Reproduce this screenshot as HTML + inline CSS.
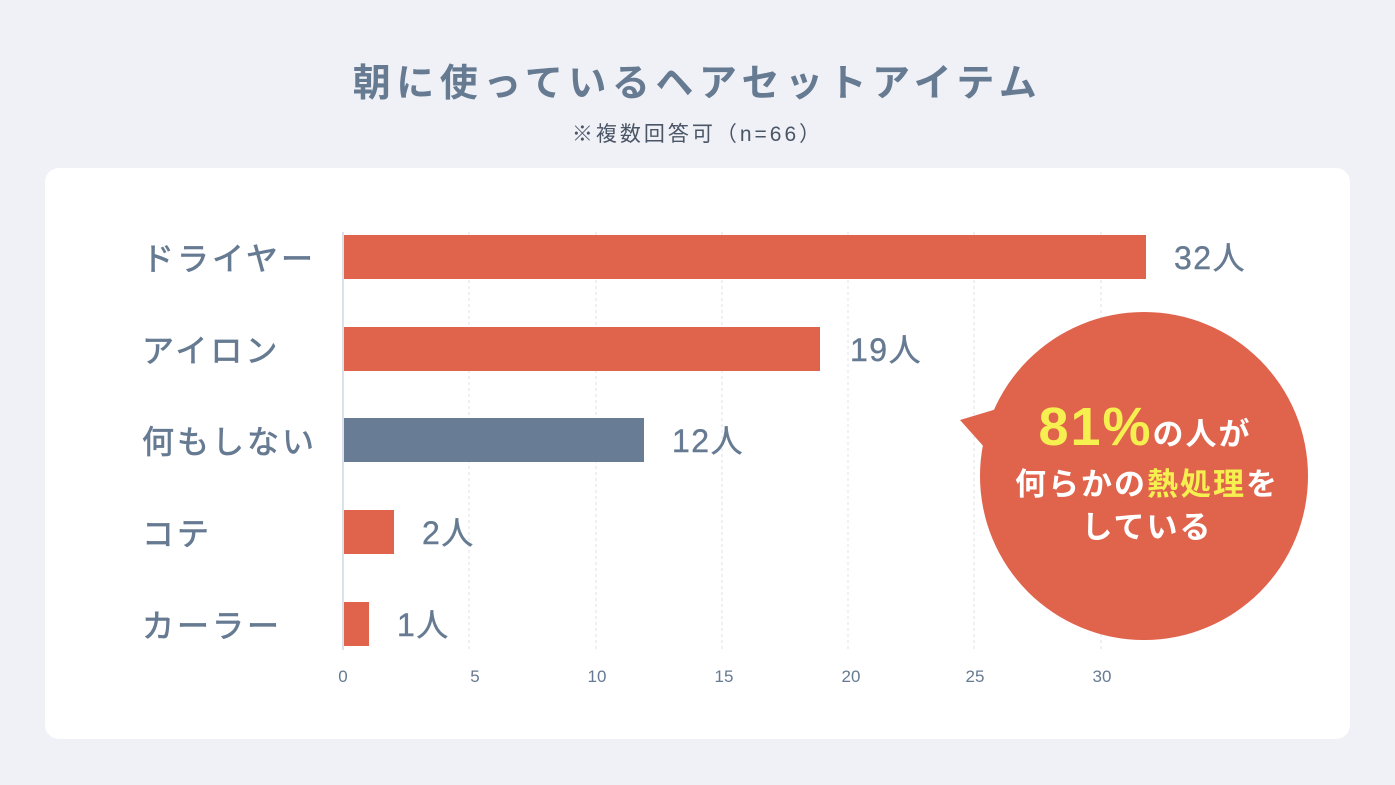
<!DOCTYPE html>
<html><head><meta charset="utf-8"><style>
body{margin:0;width:1395px;height:785px;background:#eff1f6;font-family:"Liberation Sans","Noto Sans CJK JP",sans-serif;position:relative;overflow:hidden;color:#667a92}
.t{position:absolute;left:0;width:1395px;text-align:center}
</style></head><body>
<div class="t" style="top:52px;font-size:38px;font-weight:bold;color:#667a92;letter-spacing:5.5px">朝に使っているヘアセットアイテム</div>
<div class="t" style="top:118px;font-size:21px;color:#4a5566;letter-spacing:3px">※複数回答可（n=66）</div>
<div style="position:absolute;left:45px;top:168px;width:1305px;height:571px;background:#fff;border-radius:14px"></div>
<svg style="position:absolute;left:0;top:0" width="1395" height="785" font-family="Liberation Sans, Noto Sans CJK JP, sans-serif">
<g stroke="#dde2ea" stroke-width="1" stroke-dasharray="3,3">
<line x1="469" y1="232" x2="469" y2="650"/><line x1="596" y1="232" x2="596" y2="650"/><line x1="722" y1="232" x2="722" y2="650"/><line x1="848" y1="232" x2="848" y2="650"/><line x1="974" y1="232" x2="974" y2="650"/><line x1="1101" y1="232" x2="1101" y2="650"/>
</g>
<line x1="343" y1="232" x2="343" y2="650" stroke="#dde2ea" stroke-width="2"/>
<g fill="#e0634c">
<rect x="344" y="235" width="802" height="44"/>
<rect x="344" y="327" width="476" height="44"/>
<rect x="344" y="510" width="50" height="44"/>
<rect x="344" y="602" width="25" height="44"/>
</g>
<rect x="344" y="418" width="300" height="44" fill="#687c96"/>
<g font-size="32" fill="#667a92" stroke="#667a92" stroke-width="0.7" letter-spacing="3">
<text x="142" y="270">ドライヤー</text><text x="142" y="362">アイロン</text><text x="142" y="453">何もしない</text><text x="142" y="545">コテ</text><text x="142" y="637">カーラー</text>
</g>
<g font-size="32" fill="#667a92" stroke="#667a92" stroke-width="0.4" letter-spacing="1.5">
<text x="1174" y="269">32人</text><text x="850" y="361">19人</text><text x="672" y="452">12人</text><text x="422" y="544">2人</text><text x="397" y="636">1人</text>
</g>
<g font-size="17" fill="#667a92" text-anchor="middle">
<text x="343" y="682">0</text><text x="475" y="682">5</text><text x="597" y="682">10</text><text x="724" y="682">15</text><text x="851" y="682">20</text><text x="975" y="682">25</text><text x="1102" y="682">30</text>
</g>
<circle cx="1144" cy="476" r="164" fill="#e0634c"/>
<polygon points="960,420 1000,408 985,448" fill="#e0634c"/>
<text x="1145" y="445" text-anchor="middle" font-weight="bold" fill="#fff" font-size="31" letter-spacing="2"><tspan fill="#f5f04f" font-size="54">81%</tspan>の人が</text>
<text x="1147" y="495" text-anchor="middle" font-weight="bold" fill="#fff" font-size="31" letter-spacing="2">何らかの<tspan fill="#f5f04f">熱処理</tspan>を</text>
<text x="1147" y="538" text-anchor="middle" font-weight="bold" fill="#fff" font-size="31" letter-spacing="2">している</text>
</svg>
</body></html>
